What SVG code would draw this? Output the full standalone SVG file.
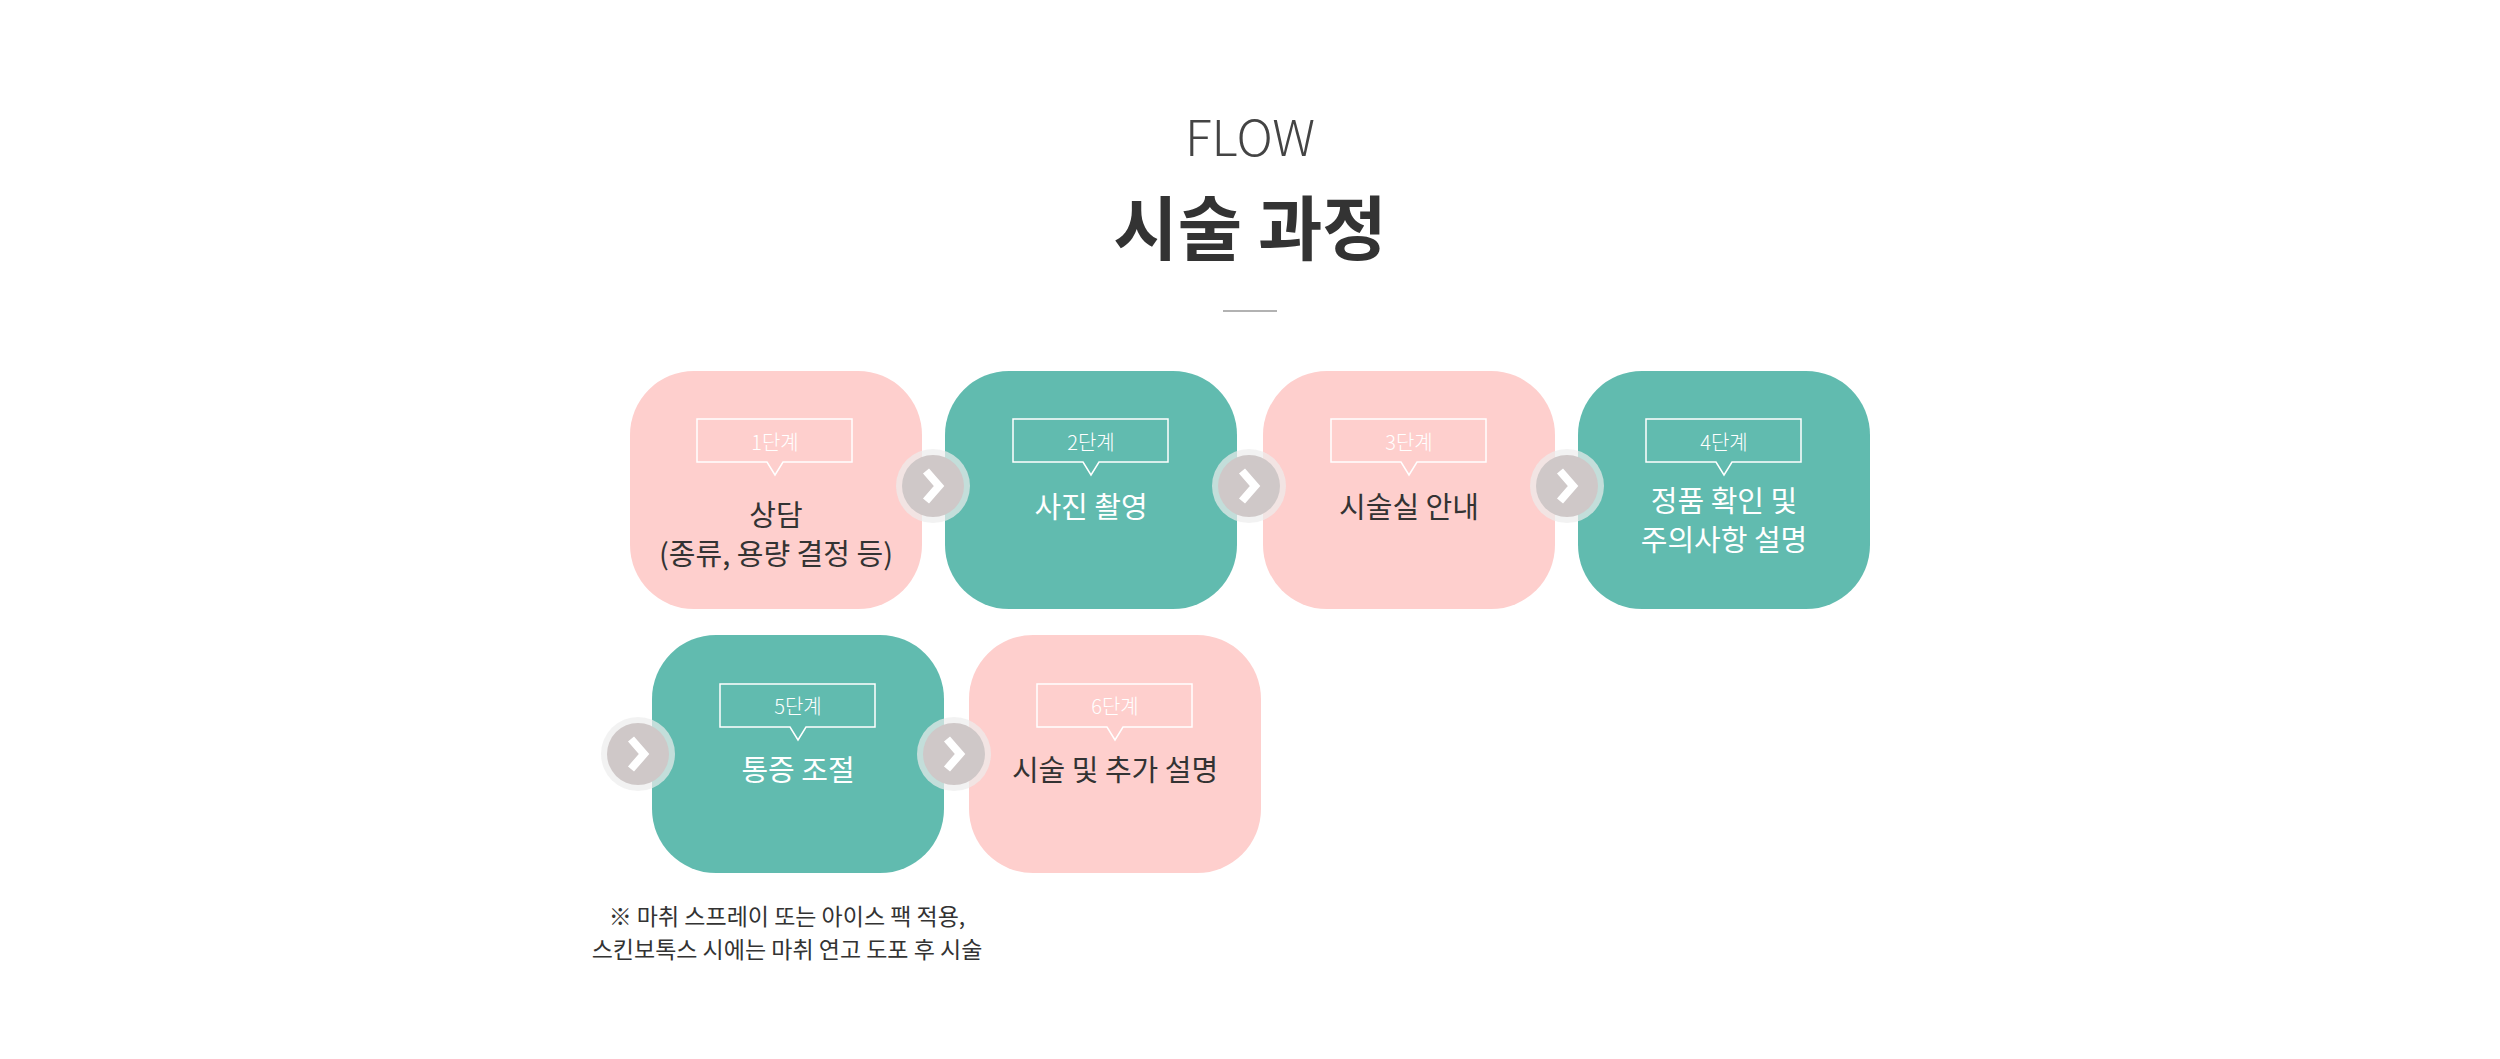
<svg xmlns="http://www.w3.org/2000/svg" width="2500" height="1059" viewBox="0 0 2500 1059">
<style>
text{font-family:"Noto Sans CJK KR","Noto Sans",sans-serif;text-anchor:middle}
.pink{fill:#fecfcd}.teal{fill:#61bbaf}
.lb{fill:none;stroke:#fff;stroke-width:1.5}
.lt{font-size:20px;fill:#fff;font-weight:300}
.dk{font-size:29px;fill:#333}.wt{font-size:29px;fill:#fff}
.halo{fill:#ececec;opacity:.7}.cir{fill:#cfc8c8}
.chev{fill:none;stroke:#fff;stroke-width:8}
</style>
<rect width="2500" height="1059" fill="#fff"/>
<text x="1250" y="156" font-size="50" font-weight="300" fill="#444">FLOW</text>
<text x="1250" y="255" font-size="70" font-weight="700" fill="#333">시술 과정</text>
<line x1="1223" y1="311" x2="1277" y2="311" stroke="#999" stroke-width="1.5"/>
<g id="n1"><rect class="pink" x="630" y="371" width="292" height="238" rx="64"/>
<path class="lb" d="M697 419h155v43h-69l-8 13-8-13h-70z"/><text class="lt" x="775" y="450">1단계</text>
<text class="dk" x="776" y="526">상담</text><text class="dk" x="776" y="565">(종류, 용량 결정 등)</text></g>
<g id="n2"><rect class="teal" x="945" y="371" width="292" height="238" rx="64"/>
<path class="lb" d="M1013 419h155v43h-69l-8 13-8-13h-70z"/><text class="lt" x="1091" y="450">2단계</text>
<text class="wt" x="1091" y="518">사진 촬영</text></g>
<g id="n3"><rect class="pink" x="1263" y="371" width="292" height="238" rx="64"/>
<path class="lb" d="M1331 419h155v43h-69l-8 13-8-13h-70z"/><text class="lt" x="1409" y="450">3단계</text>
<text class="dk" x="1409" y="518">시술실 안내</text></g>
<g id="n4"><rect class="teal" x="1578" y="371" width="292" height="238" rx="64"/>
<path class="lb" d="M1646 419h155v43h-69l-8 13-8-13h-70z"/><text class="lt" x="1724" y="450">4단계</text>
<text class="wt" x="1724" y="512">정품 확인 및</text><text class="wt" x="1724" y="551">주의사항 설명</text></g>
<g id="n5"><rect class="teal" x="652" y="635" width="292" height="238" rx="64"/>
<path class="lb" d="M720 684h155v43h-69l-8 13-8-13h-70z"/><text class="lt" x="798" y="714">5단계</text>
<text class="wt" x="798" y="781">통증 조절</text></g>
<g id="n6"><rect class="pink" x="969" y="635" width="292" height="238" rx="64"/>
<path class="lb" d="M1037 684h155v43h-69l-8 13-8-13h-70z"/><text class="lt" x="1115" y="714">6단계</text>
<text class="dk" x="1115" y="781">시술 및 추가 설명</text></g>
<g id="connectors">
<g transform="translate(933,486)"><circle class="halo" r="37"/><circle class="cir" r="31"/><path class="chev" d="M-7-15L6 0L-7 15"/></g>
<g transform="translate(1249,486)"><circle class="halo" r="37"/><circle class="cir" r="31"/><path class="chev" d="M-7-15L6 0L-7 15"/></g>
<g transform="translate(1567,486)"><circle class="halo" r="37"/><circle class="cir" r="31"/><path class="chev" d="M-7-15L6 0L-7 15"/></g>
<g transform="translate(638,754)"><circle class="halo" r="37"/><circle class="cir" r="31"/><path class="chev" d="M-7-15L6 0L-7 15"/></g>
<g transform="translate(954,754)"><circle class="halo" r="37"/><circle class="cir" r="31"/><path class="chev" d="M-7-15L6 0L-7 15"/></g>
</g>
<text x="787" y="925" font-size="23" fill="#333">※ 마취 스프레이 또는 아이스 팩 적용,</text>
<text x="787" y="958" font-size="23" fill="#333">스킨보톡스 시에는 마취 연고 도포 후 시술</text>
</svg>
